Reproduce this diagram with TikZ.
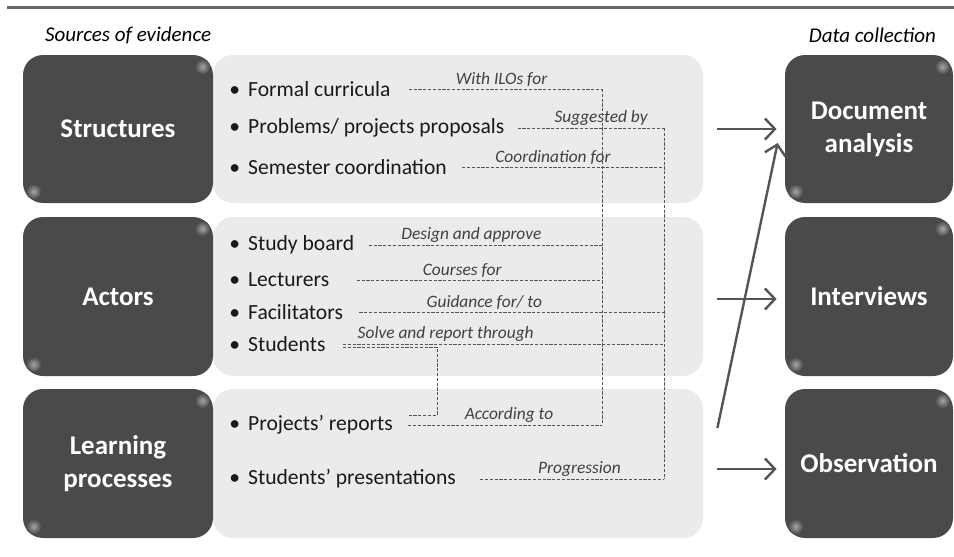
\documentclass[tikz,border=0pt]{standalone}
\usepackage{fontspec}
\setmainfont{Carlito}
\usepackage{xcolor}
\usetikzlibrary{arrows.meta, calc, positioning}

\definecolor{boxgray}{HTML}{4A4A4A}
\definecolor{panelgray}{HTML}{EBEBEB}
\definecolor{linegray}{HTML}{555555}

\begin{document}
\begin{tikzpicture}[
x=0.5pt,y=-0.5pt,
elem/.style={
    rectangle,rounded corners=10pt,fill=boxgray,text=white,align=center,
    font=\fontsize{13.5}{16.5}\selectfont\bfseries,minimum height=74pt
},
gloss/.style={inner color=black!35,outer color=boxgray},
panel/.style={
    rectangle,rounded corners=10pt,fill=panelgray,minimum width=245pt,minimum height=74pt
},
item/.style={anchor=west,inner sep=0pt,font=\fontsize{10.8}{13}\selectfont,text=black!90},
link/.style={draw=linegray,line width=0.5pt,dash pattern=on 1.6pt off 0.8pt},
lbl/.style={above,inner sep=0.8pt,font=\fontsize{8.7}{10}\selectfont\itshape,text=black!75},
flow/.style={draw=linegray,line width=1.2pt,-{Straight Barb[length=5pt,width=10.5pt,line width=1.2pt]}},
head/.style={font=\fontsize{10.5}{12}\selectfont\itshape}
]
    \useasboundingbox (0,0) rectangle (954,557);
    \draw[line width=1.75pt,draw=black!60] (7,7.5) -- (954,7.5);
    \node(Src)[head,anchor=west] at (38,35){Sources of evidence};
    \node(Dat)[head,anchor=east] at (943,35){Data collection};

    % panels and source boxes
    \node(PS)[panel] at (458,129){};
    \node(PA)[panel,minimum height=79.5pt] at (458,296.5){};
    \node(PL)[panel,minimum height=74.5pt] at (458,463.5){};
    \node(S1)[elem,minimum width=95pt] at (118,129){Structures};
    \node(S2)[elem,minimum width=95pt,minimum height=79.5pt] at (118,296.5){Actors};
    \node(S3)[elem,minimum width=95pt,minimum height=74.5pt] at (118,463.5){Learning\\processes};

    % data collection boxes
    \node(Doc)[elem,minimum width=84pt] at (869,129){Document\\analysis};
    \node(Int)[elem,minimum width=84pt,minimum height=79.5pt] at (869,296.5){Interviews};
    \node(Obs)[elem,minimum width=84pt,minimum height=74.5pt] at (869,463.5){Observation};

    % corner highlights
    \foreach \b in {S1,S2,S3,Doc,Int,Obs}{
        \shade[gloss] ([xshift=-5.5pt,yshift=-6pt]\b.north east) circle (3.8pt);
        \shade[gloss] ([xshift=5.5pt,yshift=6pt]\b.south west) circle (3.8pt);
    }

    % items
    \node(I1)[item] at (229,89){\textbullet\hspace{4pt}Formal curricula};
    \node(I2)[item] at (229,128){\textbullet\hspace{4pt}Problems/ projects proposals};
    \node(I3)[item] at (229,167){\textbullet\hspace{4pt}Semester coordination};
    \node(I4)[item] at (229,245){\textbullet\hspace{4pt}Study board};
    \node(I5)[item] at (229,280){\textbullet\hspace{4pt}Lecturers};
    \node(I6)[item] at (229,312){\textbullet\hspace{4pt}Facilitators};
    \node(I7)[item] at (229,344){\textbullet\hspace{4pt}Students};
    \node(I8)[item] at (229,425){\textbullet\hspace{4pt}Projects’ reports};
    \node(I9)[item] at (229,479){\textbullet\hspace{4pt}Students’ presentations};

    \coordinate(ColA) at (602,0);
    \coordinate(ColB) at (664,0);
    \coordinate(Jog) at (437,0);

    % dashed relations
    \draw[link] ([xshift=9pt]I1.east) -- node[lbl,pos=.48]{With ILOs for} (I1.east -| ColA);
    \draw[link] ([xshift=6.5pt]I2.east) -- node[lbl,pos=.57]{Suggested by} (I2.east -| ColB);
    \draw[link] ([xshift=7.5pt]I3.east) -- node[lbl,pos=.45]{Coordination for} (I3.east -| ColB);
    \draw[link] ([xshift=7pt]I4.east) -- node[lbl,pos=.44]{Design and approve} (I4.east -| ColA);
    \draw[link] ([xshift=13.5pt]I5.east) -- node[lbl,pos=.43]{Courses for} (I5.east -| ColA);
    \draw[link] ([xshift=8pt]I6.east) -- node[lbl,pos=.41]{Guidance for/ to} (I6.east -| ColB);
    \draw[link] ([xshift=8.5pt]I7.east) -- node[lbl,pos=.32]{Solve and report through} (I7.east -| ColB);
    \draw[link] ([xshift=8.5pt,yshift=-1.5pt]I7.east) -- ([yshift=-1.5pt]I7.east -| Jog)
        -- ([yshift=5pt]I8.east -| Jog) -- ([xshift=7.5pt,yshift=5pt]I8.east);
    \draw[link] ([xshift=7.5pt]I8.east) -- node[lbl,pos=.52]{According to} (I8.east -| ColA);
    \draw[link] ([xshift=12pt]I9.east) -- node[lbl,pos=.54]{Progression} (I9.east -| ColB);
    \draw[link] (I1.east -| ColA) -- (I8.east -| ColA);
    \draw[link] (I2.east -| ColB) -- (I9.east -| ColB);

    % arrows to data collection
    \draw[flow,shorten >=4pt] ([xshift=7pt]PS.east) -- (Doc.west);
    \draw[flow,shorten >=4pt] ([xshift=7pt,yshift=-1.25pt]PA.east) -- ([yshift=-1.25pt]Int.west);
    \draw[flow,shorten >=4pt] ([xshift=7pt,yshift=-2.75pt]PL.east) -- ([yshift=-2.75pt]Obs.west);
    \draw[flow] ([xshift=7pt,yshift=17.75pt]PL.east) -- ([xshift=-3.5pt,yshift=-7pt]Doc.west);
\end{tikzpicture}
\end{document}
